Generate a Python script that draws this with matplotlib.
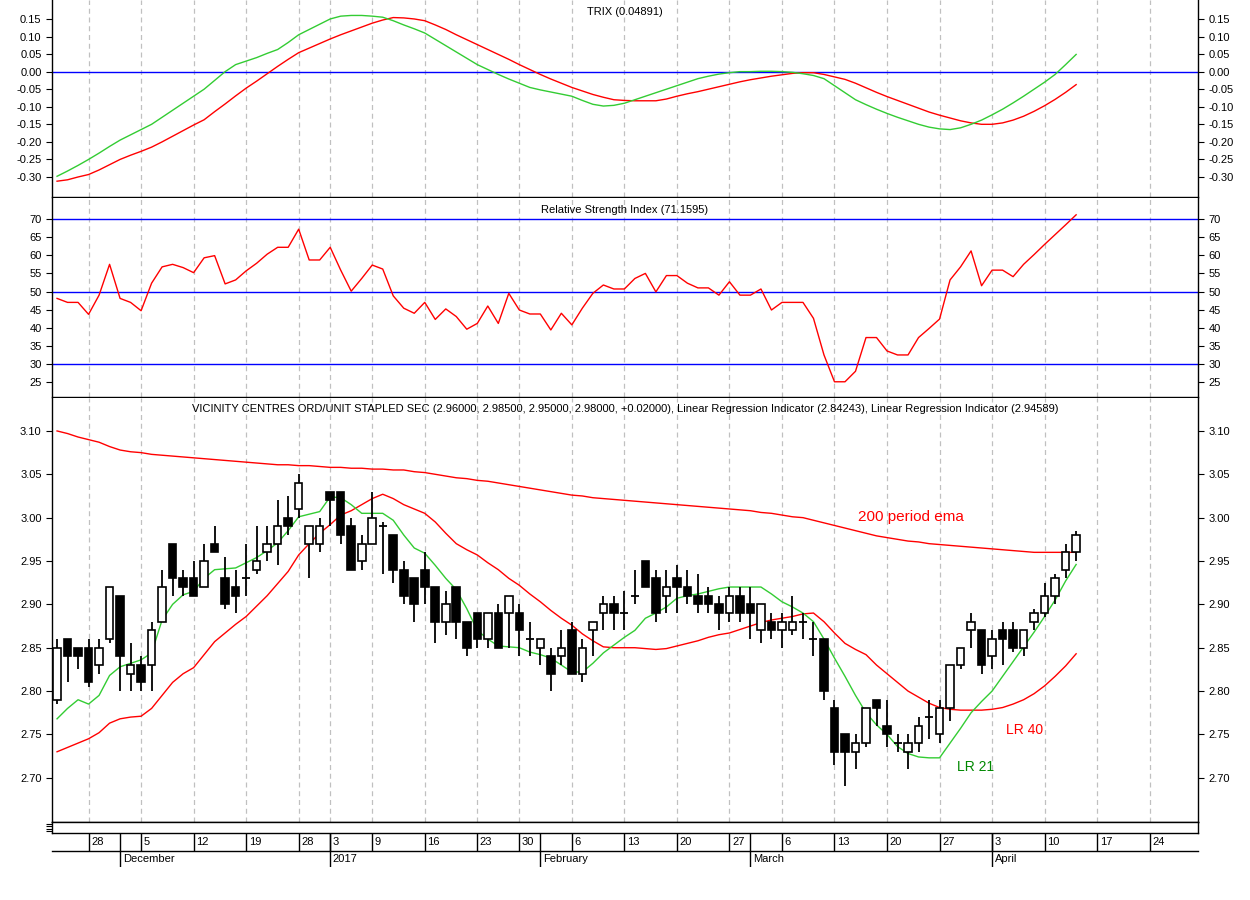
import matplotlib
matplotlib.use('Agg')
import matplotlib.pyplot as plt
import numpy as np

# ---------------------------------------------------------------------------
#  Data, one value per trading day, index 0 = 23 Nov 2016
# ---------------------------------------------------------------------------
opens = [2.79, 2.86, 2.85, 2.85, 2.83, 2.86, 2.91, 2.82, 2.83, 2.83,
         2.88, 2.97, 2.93, 2.93, 2.92, 2.97, 2.93, 2.92, 2.93, 2.94,
         2.96, 2.97, 3.00, 3.01, 2.97, 2.97, 3.03, 3.03, 2.99, 2.95,
         2.97, 2.99, 2.98, 2.94, 2.93, 2.94, 2.92, 2.88, 2.92, 2.88,
         2.89, 2.86, 2.89, 2.89, 2.89, 2.86, 2.85, 2.84, 2.84, 2.87,
         2.82, 2.87, 2.89, 2.90, 2.89, 2.91, 2.95, 2.93, 2.91, 2.93,
         2.92, 2.91, 2.91, 2.90, 2.89, 2.91, 2.90, 2.87, 2.88, 2.87,
         2.87, 2.88, 2.86, 2.86, 2.78, 2.75, 2.73, 2.74, 2.79, 2.76,
         2.74, 2.73, 2.74, 2.77, 2.75, 2.78, 2.83, 2.87, 2.87, 2.84,
         2.87, 2.87, 2.85, 2.88, 2.89, 2.91, 2.94, 2.96]
highs = [2.86, 2.86, 2.85, 2.86, 2.86, 2.92, 2.91, 2.855, 2.84, 2.88,
         2.94, 2.97, 2.94, 2.95, 2.97, 2.99, 2.955, 2.94, 2.97, 2.99,
         2.99, 3.02, 3.025, 3.05, 2.99, 3.00, 3.03, 3.03, 3.00, 2.98,
         3.03, 2.995, 2.98, 2.95, 2.93, 2.96, 2.92, 2.915, 2.92, 2.88,
         2.89, 2.89, 2.90, 2.91, 2.90, 2.88, 2.86, 2.85, 2.87, 2.88,
         2.86, 2.88, 2.91, 2.91, 2.915, 2.94, 2.95, 2.94, 2.94, 2.945,
         2.94, 2.935, 2.92, 2.91, 2.92, 2.92, 2.92, 2.90, 2.89, 2.89,
         2.91, 2.89, 2.88, 2.86, 2.79, 2.75, 2.75, 2.78, 2.79, 2.79,
         2.75, 2.75, 2.77, 2.79, 2.79, 2.83, 2.85, 2.89, 2.87, 2.87,
         2.88, 2.88, 2.87, 2.895, 2.925, 2.935, 2.97, 2.985]
lows = [2.785, 2.81, 2.825, 2.805, 2.82, 2.855, 2.80, 2.80, 2.80, 2.80,
        2.88, 2.91, 2.91, 2.91, 2.92, 2.96, 2.895, 2.89, 2.91, 2.935,
        2.95, 2.945, 2.98, 3.00, 2.93, 2.96, 2.99, 2.97, 2.94, 2.94,
        2.97, 2.935, 2.925, 2.90, 2.88, 2.90, 2.855, 2.865, 2.86, 2.84,
        2.85, 2.85, 2.85, 2.85, 2.84, 2.84, 2.83, 2.80, 2.83, 2.82,
        2.81, 2.84, 2.87, 2.87, 2.87, 2.90, 2.92, 2.88, 2.89, 2.89,
        2.90, 2.89, 2.89, 2.87, 2.88, 2.88, 2.86, 2.855, 2.86, 2.85,
        2.865, 2.86, 2.84, 2.79, 2.715, 2.69, 2.71, 2.735, 2.76, 2.735,
        2.73, 2.71, 2.73, 2.745, 2.74, 2.765, 2.825, 2.85, 2.82, 2.825,
        2.83, 2.845, 2.84, 2.87, 2.885, 2.90, 2.93, 2.95]
closes = [2.85, 2.84, 2.84, 2.81, 2.85, 2.92, 2.84, 2.83, 2.81, 2.87,
          2.92, 2.93, 2.92, 2.91, 2.95, 2.96, 2.90, 2.91, 2.93, 2.95,
          2.97, 2.99, 2.99, 3.04, 2.99, 2.99, 3.02, 2.98, 2.94, 2.97,
          3.00, 2.99, 2.94, 2.91, 2.90, 2.92, 2.88, 2.90, 2.88, 2.85,
          2.86, 2.89, 2.85, 2.91, 2.87, 2.86, 2.86, 2.82, 2.85, 2.82,
          2.85, 2.88, 2.90, 2.89, 2.89, 2.91, 2.92, 2.89, 2.92, 2.92,
          2.91, 2.90, 2.90, 2.89, 2.91, 2.89, 2.89, 2.90, 2.87, 2.88,
          2.88, 2.88, 2.86, 2.80, 2.73, 2.73, 2.74, 2.78, 2.78, 2.75,
          2.74, 2.74, 2.76, 2.77, 2.78, 2.83, 2.85, 2.88, 2.83, 2.86,
          2.86, 2.85, 2.87, 2.89, 2.91, 2.93, 2.96, 2.98]

lr21 = [2.768, 2.78, 2.79, 2.785, 2.795, 2.818, 2.828, 2.832, 2.836, 2.844,
        2.882, 2.90, 2.911, 2.915, 2.93, 2.94, 2.941, 2.942, 2.948, 2.954,
        2.962, 2.971, 2.985, 3.001, 3.004, 3.007, 3.024, 3.023, 3.015, 3.005,
        3.005, 3.005, 2.997, 2.98, 2.965, 2.959, 2.945, 2.93, 2.917, 2.895,
        2.87, 2.86, 2.852, 2.851, 2.85, 2.845, 2.842, 2.838, 2.83, 2.822,
        2.822, 2.832, 2.844, 2.853, 2.862, 2.87, 2.884, 2.89, 2.897, 2.907,
        2.91, 2.912, 2.915, 2.918, 2.92, 2.92, 2.92, 2.92, 2.912, 2.903,
        2.897, 2.89, 2.88, 2.86, 2.838, 2.817, 2.795, 2.775, 2.761, 2.75,
        2.736, 2.728, 2.724, 2.723, 2.723, 2.74, 2.757, 2.775, 2.788, 2.80,
        2.817, 2.834, 2.851, 2.868, 2.886, 2.905, 2.927, 2.946]
lr40 = [2.73, 2.735, 2.74, 2.745, 2.752, 2.763, 2.768, 2.77, 2.771, 2.78,
        2.795, 2.81, 2.82, 2.827, 2.842, 2.857, 2.867, 2.877, 2.886, 2.898,
        2.91, 2.924, 2.938, 2.957, 2.97, 2.982, 2.992, 3.003, 3.008, 3.015,
        3.022, 3.027, 3.022, 3.015, 3.01, 3.005, 2.995, 2.982, 2.97, 2.963,
        2.957, 2.948, 2.94, 2.93, 2.922, 2.912, 2.903, 2.893, 2.884, 2.876,
        2.866, 2.858, 2.851, 2.85, 2.85, 2.85, 2.849, 2.848, 2.849, 2.852,
        2.855, 2.858, 2.862, 2.865, 2.867, 2.871, 2.875, 2.879, 2.882, 2.884,
        2.886, 2.889, 2.89, 2.88, 2.867, 2.855, 2.848, 2.842, 2.83, 2.82,
        2.81, 2.80, 2.793, 2.786, 2.781, 2.779, 2.778, 2.778, 2.778, 2.779,
        2.781, 2.785, 2.79, 2.797, 2.806, 2.817, 2.829, 2.843]
ema200 = [3.100, 3.097, 3.093, 3.090, 3.087, 3.082, 3.078, 3.076, 3.075, 3.073,
          3.072, 3.071, 3.070, 3.069, 3.068, 3.067, 3.066, 3.065, 3.064, 3.063,
          3.062, 3.061, 3.061, 3.060, 3.060, 3.059, 3.058, 3.058, 3.057, 3.057,
          3.056, 3.056, 3.055, 3.055, 3.053, 3.052, 3.050, 3.048, 3.046, 3.045,
          3.043, 3.042, 3.040, 3.038, 3.036, 3.034, 3.032, 3.030, 3.028, 3.026,
          3.025, 3.023, 3.022, 3.021, 3.020, 3.019, 3.018, 3.017, 3.016, 3.015,
          3.014, 3.013, 3.012, 3.011, 3.010, 3.009, 3.008, 3.006, 3.005, 3.003,
          3.001, 3.000, 2.997, 2.994, 2.991, 2.988, 2.985, 2.982, 2.979, 2.977,
          2.975, 2.973, 2.972, 2.970, 2.969, 2.968, 2.967, 2.966, 2.965, 2.964,
          2.963, 2.962, 2.961, 2.960, 2.960, 2.960, 2.960, 2.960]

rsi = [48.1, 47.0, 47.0, 43.7, 49.0, 57.5, 48.1, 47.0, 44.7, 52.3,
       56.8, 57.5, 56.6, 55.2, 59.3, 59.9, 52.1, 53.2, 55.7, 57.8,
       60.3, 62.2, 62.2, 67.2, 58.7, 58.7, 62.2, 55.9, 50.1, 53.6,
       57.3, 56.2, 48.8, 45.4, 44.0, 47.0, 42.3, 45.2, 43.1, 39.6,
       41.2, 46.0, 41.2, 49.5, 44.9, 43.8, 43.8, 39.4, 44.0, 40.8,
       45.4, 49.5, 51.8, 50.7, 50.7, 53.6, 55.0, 49.9, 54.4, 54.4,
       52.3, 51.0, 51.0, 49.0, 52.7, 49.0, 49.0, 50.7, 44.9, 47.0,
       47.0, 47.0, 42.6, 32.5, 25.1, 25.1, 28.0, 37.3, 37.3, 33.6,
       32.5, 32.5, 37.3, 39.8, 42.4, 53.2, 56.8, 61.2, 51.6, 55.9,
       55.9, 54.1, 57.5, 60.2, 63.0, 65.7, 68.4, 71.16]

trix = [-0.298, -0.283, -0.267, -0.250, -0.232, -0.213, -0.195, -0.180, -0.165, -0.150,
        -0.130, -0.110, -0.090, -0.070, -0.050, -0.025, 0.000, 0.020, 0.030, 0.040,
        0.052, 0.063, 0.083, 0.105, 0.120, 0.135, 0.150, 0.158, 0.160, 0.160,
        0.158, 0.155, 0.145, 0.133, 0.122, 0.110, 0.092, 0.074, 0.056, 0.038,
        0.020, 0.006, -0.008, -0.021, -0.033, -0.045, -0.052, -0.058, -0.064, -0.070,
        -0.082, -0.093, -0.098, -0.096, -0.090, -0.080, -0.070, -0.060, -0.050, -0.040,
        -0.030, -0.020, -0.013, -0.007, -0.003, 0.000, 0.000, 0.001, 0.001, 0.000,
        -0.002, -0.006, -0.011, -0.020, -0.040, -0.060, -0.080, -0.094, -0.107, -0.119,
        -0.130, -0.140, -0.150, -0.158, -0.163, -0.165, -0.160, -0.150, -0.138, -0.123,
        -0.107, -0.089, -0.070, -0.050, -0.030, -0.008, 0.020, 0.049]
trix_signal = [-0.312, -0.308, -0.300, -0.293, -0.280, -0.265, -0.250, -0.238, -0.227, -0.215,
               -0.200, -0.184, -0.168, -0.152, -0.137, -0.114, -0.092, -0.069, -0.047, -0.027,
               -0.006, 0.015, 0.035, 0.054, 0.067, 0.080, 0.093, 0.105, 0.116, 0.127,
               0.138, 0.147, 0.154, 0.153, 0.150, 0.145, 0.133, 0.120, 0.105, 0.091,
               0.077, 0.063, 0.049, 0.035, 0.020, 0.006, -0.008, -0.021, -0.033, -0.045,
               -0.055, -0.065, -0.073, -0.080, -0.082, -0.083, -0.083, -0.083, -0.078, -0.070,
               -0.063, -0.057, -0.050, -0.043, -0.036, -0.029, -0.023, -0.018, -0.013, -0.009,
               -0.005, -0.003, -0.003, -0.008, -0.015, -0.022, -0.033, -0.046, -0.059, -0.071,
               -0.082, -0.093, -0.104, -0.115, -0.124, -0.132, -0.140, -0.146, -0.150, -0.150,
               -0.146, -0.138, -0.127, -0.113, -0.097, -0.079, -0.059, -0.037]

# date axis: trading-day index of each weekly label and of each month start
week_idx = [3, 8, 13, 18, 23, 26, 30, 35, 40, 44, 49, 54, 59, 64, 69, 74, 79, 84, 89, 94, 99, 104]
week_lbl = ['28', '5', '12', '19', '28', '3', '9', '16', '23', '30', '6', '13', '20', '27',
            '6', '13', '20', '27', '3', '10', '17', '24']
month_idx = [6, 26, 46, 66, 89]
month_lbl = ['December', '2017', 'February', 'March', 'April']

# ---------------------------------------------------------------------------
RED, GREEN, BLUE = '#ff0000', '#33cc33', '#0000ff'
FS = 8
plt.rcParams['font.family'] = ['Liberation Sans', 'DejaVu Sans']

W, H = 1250, 900
fig = plt.figure(figsize=(12.5, 9), dpi=100)
fig.patch.set_facecolor('white')


def px_axes(top, bottom):
    return fig.add_axes([52 / W, 1 - bottom / H, (1198 - 52) / W, (bottom - top) / H])


x = np.arange(len(closes))
XLIM = (-0.48, 108.6)


def style(ax, yticks, fmt):
    ax.set_xlim(*XLIM)
    ax.set_xticks([])
    ax.set_yticks(yticks)
    labels = [fmt.format(v) for v in yticks]
    ax.set_yticklabels([t.replace('-0.00', '0.00') for t in labels])
    ax.tick_params(axis='y', labelsize=FS, left=True, right=True,
                   labelleft=True, labelright=True, length=4, direction='out')
    for s in ax.spines.values():
        s.set_linewidth(1.0)
    ax.spines['top'].set_visible(False)
    for w in week_idx:
        ax.axvline(w, color='#c0c0c0', lw=0.9, ls=(0, (4, 3)), zorder=0)


# ---- TRIX -----------------------------------------------------------------
ax1 = px_axes(0, 197)
style(ax1, np.round(np.arange(-0.30, 0.151, 0.05), 2), '{:.2f}')
ax1.set_ylim(-0.357, 0.204)
ax1.axhline(0, color=BLUE, lw=1)
ax1.plot(x, trix_signal, color=RED, lw=1)
ax1.plot(x, trix, color=GREEN, lw=1)
ax1.text(0.5, 0.965, 'TRIX (0.04891)', transform=ax1.transAxes,
         ha='center', va='top', fontsize=FS)

# ---- RSI ------------------------------------------------------------------
ax2 = px_axes(198, 397)
style(ax2, np.arange(25, 71, 5), '{:d}')
ax2.set_ylim(20.9, 75.8)
for lvl in (70, 50, 30):
    ax2.axhline(lvl, color=BLUE, lw=1)
ax2.plot(x, rsi, color=RED, lw=1)
ax2.text(0.5, 0.965, 'Relative Strength Index (71.1595)', transform=ax2.transAxes,
         ha='center', va='top', fontsize=FS)

# ---- Price ----------------------------------------------------------------
ax3 = px_axes(398, 822)
style(ax3, np.round(np.arange(2.70, 3.101, 0.05), 2), '{:.2f}')
ax3.set_ylim(2.649, 3.138)
ax3.plot(x, ema200, color=RED, lw=1)
ax3.plot(x, lr40, color=RED, lw=1)
ax3.plot(x, lr21, color=GREEN, lw=1)

o, h, l, c = map(np.array, (opens, highs, lows, closes))
ax3.vlines(x, l, h, color='black', lw=1.3, zorder=3)
up = c > o
dn = c < o
flat = c == o
ax3.bar(x[up], (c - o)[up], bottom=o[up], width=0.72, facecolor='white',
        edgecolor='black', lw=1.2, zorder=4)
ax3.bar(x[dn], (o - c)[dn], bottom=c[dn], width=0.72, facecolor='black',
        edgecolor='black', lw=1.2, zorder=4)
ax3.hlines(c[flat], x[flat] - 0.38, x[flat] + 0.38, color='black', lw=1.3, zorder=4)

ax3.text(0.5, 0.985,
         'VICINITY CENTRES ORD/UNIT STAPLED SEC (2.96000, 2.98500, 2.95000, 2.98000, +0.02000), '
         'Linear Regression Indicator (2.84243), Linear Regression Indicator (2.94589)',
         transform=ax3.transAxes, ha='center', va='top', fontsize=FS)
ax3.text(76.2, 3.001, '200 period ema', color=RED, fontsize=11, va='center')
ax3.text(90.3, 2.755, 'LR 40', color=RED, fontsize=10, va='center')
ax3.text(85.7, 2.713, 'LR 21', color='#008800', fontsize=10, va='center')

# ---- volume strip (empty) -------------------------------------------------
ax4 = px_axes(822, 833)
ax4.set_xlim(*XLIM)
ax4.set_xticks([])
ax4.set_yticks([0.2, 0.4, 0.6, 0.8])
ax4.set_yticklabels([])
ax4.tick_params(axis='y', length=4, direction='out')
for s in ax4.spines.values():
    s.set_linewidth(1.0)

# ---- date axis ------------------------------------------------------------
ax5 = px_axes(833, 867)
ax5.set_xlim(*XLIM)
ax5.set_ylim(0, 1)
ax5.axis('off')
mid = 16 / 34
ax5.plot([XLIM[0], XLIM[1]], [mid, mid], color='black', lw=1, clip_on=False)
for w, t in zip(week_idx, week_lbl):
    ax5.vlines(w, mid, 1, color='black', lw=1)
    ax5.text(w + 0.25, (1 + mid) / 2, t, fontsize=FS, va='center', ha='left')
for m, t in zip(month_idx, month_lbl):
    ax5.vlines(m, 0, 1, color='black', lw=1)
    ax5.text(m + 0.25, mid / 2, t, fontsize=FS, va='center', ha='left')

plt.savefig('out.png', dpi=100, facecolor='white')
plt.close()
